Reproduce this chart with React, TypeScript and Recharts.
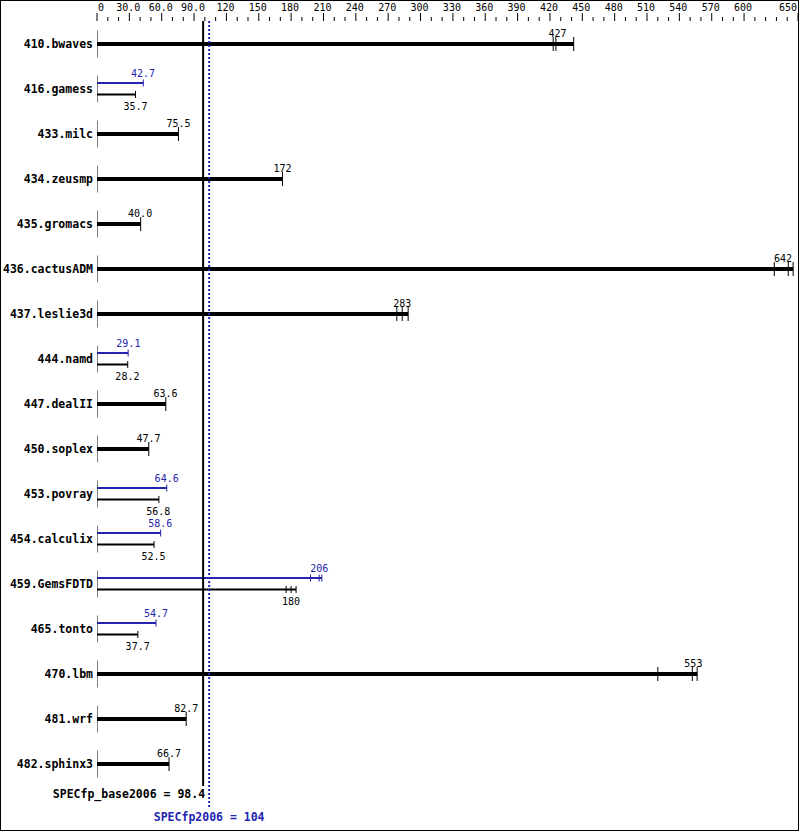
import * as React from 'react';
import { Bar, BarChart, ReferenceLine, XAxis, YAxis } from 'recharts';

const BLUE = '#2424b0';
const MONO = '"DejaVu Sans Mono", monospace';

const benchmarks = [
  '410.bwaves', '416.gamess', '433.milc', '434.zeusmp', '435.gromacs',
  '436.cactusADM', '437.leslie3d', '444.namd', '447.dealII', '450.soplex',
  '453.povray', '454.calculix', '459.GemsFDTD', '465.tonto', '470.lbm',
  '481.wrf', '482.sphinx3',
];

// median scores printed next to the bars
const baseScores = [427, 35.7, 75.5, 172, 40.0, 642, 283, 28.2, 63.6, 47.7, 56.8, 52.5, 180, 37.7, 553, 82.7, 66.7];
const peakScores = [null, 42.7, null, null, null, null, null, 29.1, null, null, 64.6, 58.6, 206, 54.7, null, null, null];

// individual run results (tick marks at the bar ends)
const baseRuns = [
  [423, 425.5, 442], [35.7], [75.5], [172], [40.5],
  [628, 641, 645.5], [278, 283, 288.5], [28.5], [63.8], [48],
  [57.4], [52.9], [175.4, 180, 184.6], [37.9], [520, 552, 556.5],
  [82.7], [66.8],
];
const peakRuns = [
  null, [42.9], null, null, null,
  null, null, [28.9], null, null,
  [64.7], [59], [198, 206, 208.5], [54.7], null,
  null, null,
];

const majorTicks = [0, 30, 60, 90, 120, 150, 180, 210, 240, 270, 300, 330, 360, 390, 420, 450, 480, 510, 540, 570, 600, 650];
const axisTicks = Array.from({ length: 66 }, (_, i) => i * 10);

const SPEC_BASE = 98.4;
const SPEC_PEAK = 104;

const rows = benchmarks.map((name, i) => ({
  name,
  base: baseScores[i],
  peak: peakScores[i],
  baseRuns: baseRuns[i],
  peakRuns: peakRuns[i],
  baseEnd: Math.max(...baseRuns[i]),
  peakEnd: peakRuns[i] ? Math.max(...(peakRuns[i] as number[])) : null,
}));

const fmt = (v: number) => (v >= 100 ? v.toFixed(0) : v.toFixed(1));
const tickFmt = (v: number) => (v === 0 ? '0' : v < 100 ? v.toFixed(1) : String(v));

function labelX(cx: number, text: string) {
  const w = text.length * 6.02;
  return Math.min(cx, 792 - w / 2);
}

function AxisTick(props: any) {
  const { x, y, payload } = props;
  const v = payload.value;
  const major = majorTicks.includes(v);
  let anchor = 'middle';
  let tx = x - 1;
  if (v === 0) { anchor = 'start'; tx = x + 1; }
  if (v === 650) { anchor = 'end'; tx = x - 1; }
  return (
    <g>
      <line x1={x} x2={x} y1={y - (major ? 8 : 4)} y2={y} stroke='#000' />
      {major && (
        <text x={tx} y={y - 10.5} textAnchor={anchor} fontFamily={MONO} fontSize={10} fill='#000'>
          {tickFmt(v)}
        </text>
      )}
    </g>
  );
}

function NameTick(props: any) {
  const { y, payload } = props;
  return (
    <text x={93} y={y + 4} textAnchor='end' fontFamily={MONO} fontWeight='bold' fontSize={11.5} fill='#000'>
      {payload.value}
    </text>
  );
}

function BaseShape(props: any) {
  const { x, y, width, height, payload } = props;
  const cy = y + height / 2;
  const k = width / payload.baseEnd;
  const single = payload.peak == null;
  const label = fmt(payload.base);
  const lx = labelX(x + payload.base * k, label);
  if (single) {
    return (
      <g>
        <line x1={x} x2={x} y1={cy - 13.5} y2={cy + 13.5} stroke='#000' />
        <rect x={x} y={cy - 2} width={width} height={4} fill='#000' />
        {payload.baseRuns.map((r: number, i: number) => (
          <line key={i} x1={x + r * k} x2={x + r * k} y1={cy - 7} y2={cy + 7} stroke='#000' />
        ))}
        <text x={lx} y={cy - 7.5} textAnchor='middle' fontFamily={MONO} fontSize={10} fill='#000'>
          {label}
        </text>
      </g>
    );
  }
  const by = cy + 5.5;
  return (
    <g>
      <line x1={x} x2={x} y1={cy - 13.5} y2={cy + 13.5} stroke='#000' />
      <rect x={x} y={by - 1} width={width} height={2} fill='#000' />
      {payload.baseRuns.map((r: number, i: number) => (
        <line key={i} x1={x + r * k} x2={x + r * k} y1={by - 3.5} y2={by + 3.5} stroke='#000' />
      ))}
      <text x={lx} y={cy + 21} textAnchor='middle' fontFamily={MONO} fontSize={10} fill='#000'>
        {label}
      </text>
    </g>
  );
}

function PeakShape(props: any) {
  const { x, y, width, height, payload } = props;
  if (payload.peak == null || !payload.peakEnd) return <g />;
  const cy = y + height / 2;
  const k = width / payload.peakEnd;
  const py = cy - 6;
  const label = fmt(payload.peak);
  const lx = labelX(x + payload.peak * k, label);
  return (
    <g>
      <rect x={x} y={py - 1} width={width} height={2} fill={BLUE} />
      {payload.peakRuns.map((r: number, i: number) => (
        <line key={i} x1={x + r * k} x2={x + r * k} y1={py - 3.5} y2={py + 3.5} stroke={BLUE} />
      ))}
      <text x={lx} y={cy - 12.5} textAnchor='middle' fontFamily={MONO} fontSize={10} fill={BLUE}>
        {label}
      </text>
    </g>
  );
}

function BaseLine(props: any) {
  const { x1, y1, y2 } = props;
  return (
    <g>
      <line x1={x1} x2={x1} y1={y1} y2={y2} stroke='#000' strokeWidth={2} />
      <text x={x1 + 2} y={y2 + 12} textAnchor='end' fontFamily={MONO} fontWeight='bold' fontSize={11.5} fill='#000'>
        {`SPECfp_base2006 = ${SPEC_BASE}`}
      </text>
    </g>
  );
}

function PeakLine(props: any) {
  const { x1, y1, y2 } = props;
  return (
    <g>
      <line x1={x1} x2={x1} y1={y1} y2={y2 + 21} stroke={BLUE} strokeWidth={2} strokeDasharray='2 2' />
      <text x={x1} y={y2 + 35} textAnchor='middle' fontFamily={MONO} fontWeight='bold' fontSize={11.5} fill={BLUE}>
        {`SPECfp2006 = ${SPEC_PEAK}`}
      </text>
    </g>
  );
}

export default function App() {
  return (
    <div style={{ position: 'absolute', left: 0, top: 0, width: 799, height: 831, background: '#fff' }}>
      <BarChart
        layout='vertical'
        width={799}
        height={831}
        data={rows}
        margin={{ top: 0, right: 1, bottom: 45, left: 0 }}
        barCategoryGap={0}
      >
        <XAxis
          type='number'
          orientation='top'
          domain={[0, 650]}
          ticks={axisTicks}
          interval={0}
          height={21}
          tickSize={0}
          tickMargin={0}
          axisLine={false}
          tick={<AxisTick />}
          allowDataOverflow
        />
        <YAxis
          yAxisId='base'
          type='category'
          dataKey='name'
          width={97}
          axisLine={false}
          tickLine={false}
          tickSize={0}
          tickMargin={4}
          interval={0}
          tick={<NameTick />}
        />
        <YAxis yAxisId='peak' type='category' dataKey='name' hide />
        <Bar yAxisId='base' dataKey='baseEnd' barSize={4} shape={BaseShape} isAnimationActive={false} />
        <Bar yAxisId='peak' dataKey='peakEnd' barSize={4} shape={PeakShape} isAnimationActive={false} />
        <ReferenceLine yAxisId='base' x={SPEC_BASE} shape={BaseLine} ifOverflow='visible' />
        <ReferenceLine yAxisId='base' x={SPEC_PEAK} shape={PeakLine} ifOverflow='visible' />
      </BarChart>
      <div
        style={{
          position: 'absolute', left: 0, top: 0, width: 799, height: 831,
          border: '1px solid #000', boxSizing: 'border-box', pointerEvents: 'none',
        }}
      />
    </div>
  );
}
